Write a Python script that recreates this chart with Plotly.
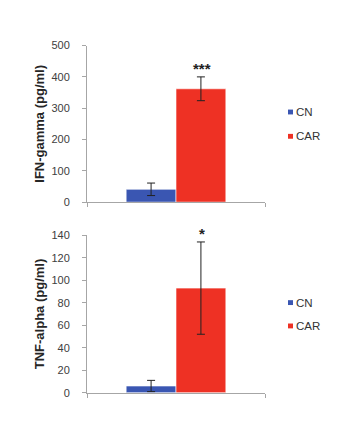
import plotly.graph_objects as go
from plotly.subplots import make_subplots

# ---- data ----
groups = ["CN", "CAR"]
category = ["Sample"]
ifn_mean = [41, 362]
ifn_err = [20, 38]
tnf_mean = [6, 93]
tnf_err = [5, 41]
ifn_sig = "***"
tnf_sig = "*"
ifn_title = "IFN-gamma (pg/ml)"
tnf_title = "TNF-alpha (pg/ml)"
colors = ["#3a56b2", "#ee3124"]

W, H = 344, 436
FONT = "Liberation Sans, Arial, sans-serif"

fig = make_subplots(rows=2, cols=1)

for row, means, errs in [(1, ifn_mean, ifn_err), (2, tnf_mean, tnf_err)]:
    for i, g in enumerate(groups):
        fig.add_trace(go.Bar(
            x=category, y=[means[i]], name=g,
            marker=dict(color=colors[i], line=dict(color="white", width=0.6)),
            error_y=dict(type="data", array=[errs[i]], visible=True,
                         color="#222222", thickness=1, width=4),
            showlegend=False,
        ), row=row, col=1)

xdom = [87 / W, 265 / W]
top_dom = [1 - 201.7 / H, 1 - 40.7 / H]
bot_dom = [1 - 397.7 / H, 1 - 235.7 / H]

axis_common = dict(showline=True, linecolor="#a6a6a6", linewidth=1,
                   ticks="outside", ticklen=4, tickcolor="#a6a6a6",
                   showgrid=False, zeroline=False)

title_font = dict(size=13, color="#262626", family=FONT)
tick_font = dict(size=11, color="#404040", family=FONT)

fig.update_layout(
    xaxis=dict(domain=xdom, showticklabels=False, tickson="boundaries", **axis_common),
    xaxis2=dict(domain=xdom, showticklabels=False, tickson="boundaries", **axis_common),
    yaxis=dict(domain=top_dom, range=[0, 500], dtick=100, ticklabelstandoff=10,
               tickfont=tick_font,
               title=dict(text="<b>" + ifn_title + "</b>", standoff=3, font=title_font),
               **axis_common),
    yaxis2=dict(domain=bot_dom, range=[0, 140], dtick=20, ticklabelstandoff=10,
                tickfont=tick_font,
                title=dict(text="<b>" + tnf_title + "</b>", standoff=3, font=title_font),
                **axis_common),
    barmode="group", bargap=0.44, bargroupgap=0,
    width=W, height=H, margin=dict(l=0, r=0, t=0, b=0),
    paper_bgcolor="white", plot_bgcolor="white",
    font=dict(family=FONT, color="#333333"),
    showlegend=False,
)

# significance marks above CAR bars
for xr, yr, means, errs, sig in [("x", "y", ifn_mean, ifn_err, ifn_sig),
                                  ("x2", "y2", tnf_mean, tnf_err, tnf_sig)]:
    fig.add_annotation(x=category[0], y=means[1] + errs[1], xref=xr, yref=yr,
                       text="<b>" + sig + "</b>", showarrow=False,
                       xshift=26, yshift=-2, yanchor="bottom",
                       font=dict(size=15, color="#222222", family=FONT))

# legends (one per panel)
legend_rows = [(109, 134), (305, 329)]
for ys in legend_rows:
    for i, g in enumerate(groups):
        yc = ys[i]
        fig.add_shape(type="rect", xref="paper", yref="paper",
                      x0=288 / W, x1=293 / W,
                      y0=1 - (yc + 2.5) / H, y1=1 - (yc - 2.5) / H,
                      fillcolor=colors[i], line=dict(width=0))
        fig.add_annotation(xref="paper", yref="paper", x=294 / W, y=1 - yc / H,
                           xanchor="left", yanchor="middle", showarrow=False,
                           text=g, font=dict(size=11.5, color="#333333", family=FONT))

fig.write_html("out.html")
